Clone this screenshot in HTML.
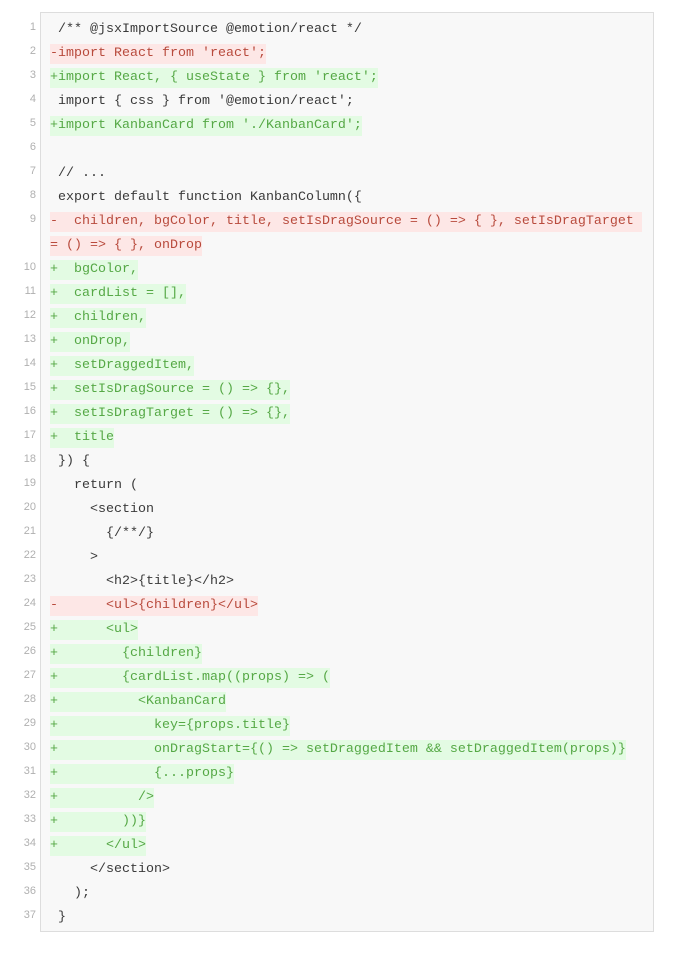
<!DOCTYPE html>
<html><head><meta charset="utf-8"><style>
body{margin:0;background:#fff;width:692px;height:962px;position:relative;font-family:"Liberation Mono",monospace;}
.box{position:absolute;left:40px;top:12px;width:614px;height:920px;background:#f8f8f8;border:1px solid #ddd;box-sizing:border-box;}
.row{position:absolute;left:0;height:24px;width:692px;}
.n{position:absolute;left:0;width:36px;text-align:right;font-size:11px;color:#b0b0b0;top:2px;font-family:"Liberation Sans Narrow","Liberation Sans",sans-serif;}
.c{position:absolute;left:50px;top:1px;height:20px;line-height:20px;font-size:13.33px;white-space:pre;color:#3a3a3a;}
.d{background:#fde7e6;color:#b84a3c;}
.a{background:#e3fbe3;color:#55a845;}
</style></head><body>
<div class="box"></div>
<div id="r"></div>
<script>
const L=[
[1,'',' /** @jsxImportSource @emotion/react */'],
[2,'d',"-import React from 'react';"],
[3,'a',"+import React, { useState } from 'react';"],
[4,'',"  import { css } from '@emotion/react';".slice(1)],
[5,'a',"+import KanbanCard from './KanbanCard';"],
[6,'',''],
[7,'',' // ...'],
[8,'',' export default function KanbanColumn({'],
[9,'d','-  children, bgColor, title, setIsDragSource = () => { }, setIsDragTarget '],
[0,'d','= () => { }, onDrop'],
[10,'a','+  bgColor,'],
[11,'a','+  cardList = [],'],
[12,'a','+  children,'],
[13,'a','+  onDrop,'],
[14,'a','+  setDraggedItem,'],
[15,'a','+  setIsDragSource = () => {},'],
[16,'a','+  setIsDragTarget = () => {},'],
[17,'a','+  title'],
[18,'',' }) {'],
[19,'','   return ('],
[20,'','     <section'],
[21,'','       {/**/}'],
[22,'','     >'],
[23,'','       <h2>{title}</h2>'],
[24,'d','-      <ul>{children}</ul>'],
[25,'a','+      <ul>'],
[26,'a','+        {children}'],
[27,'a','+        {cardList.map((props) => ('],
[28,'a','+          <KanbanCard'],
[29,'a','+            key={props.title}'],
[30,'a','+            onDragStart={() => setDraggedItem && setDraggedItem(props)}'],
[31,'a','+            {...props}'],
[32,'a','+          />'],
[33,'a','+        ))}'],
[34,'a','+      </ul>'],
[35,'','     </section>'],
[36,'','   );'],
[37,'',' }']];
let h='';
L.forEach((l,i)=>{
 const esc=s=>s.replace(/&/g,'&amp;').replace(/</g,'&lt;').replace(/>/g,'&gt;');
 h+=`<div class="row" style="top:${19+24*i}px">${l[0]?`<div class="n">${l[0]}</div>`:''}<span class="c ${l[1]}">${esc(l[2])}</span></div>`;
});
document.getElementById('r').innerHTML=h;
</script>
</body></html>
